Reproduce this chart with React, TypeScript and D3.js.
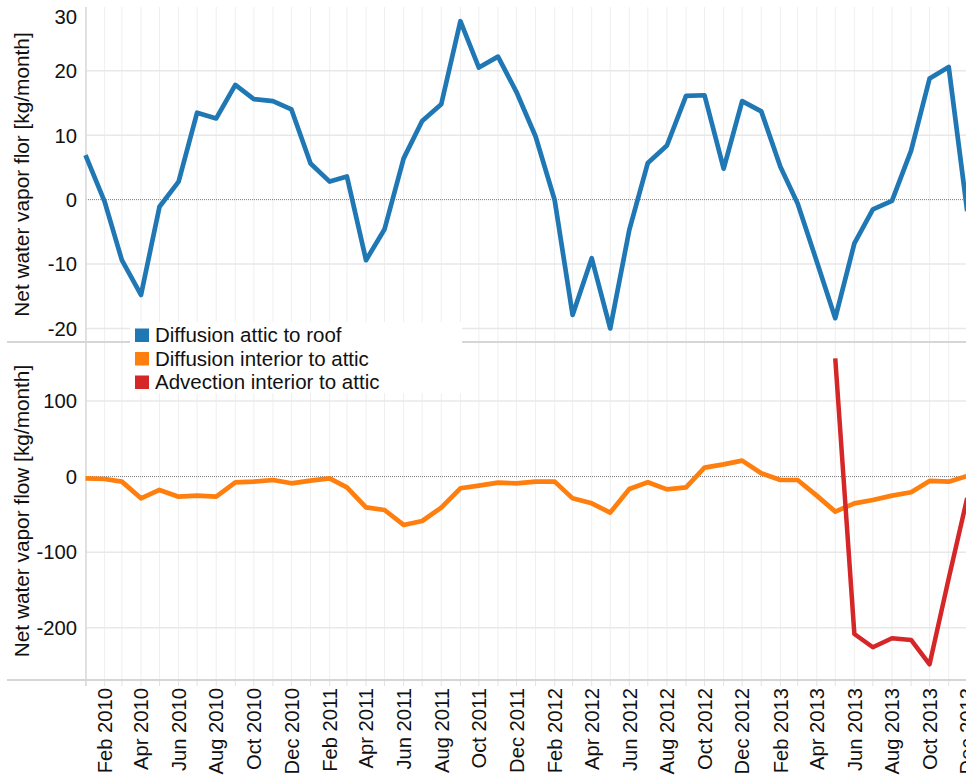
import React from "react";
import * as d3 from "d3";

// monthly values, Jan 2010 .. Dec 2013
const startMonth = new Date(2010, 0, 1);
const months = d3.range(48).map((i) => d3.timeMonth.offset(startMonth, i));

const diffusionAtticRoof = [
  6.9, -0.3, -9.4, -14.8, -1.1, 2.8, 13.5, 12.6, 17.8, 15.6, 15.3, 14.0,
  5.6, 2.8, 3.6, -9.4, -4.6, 6.4, 12.2, 14.8, 27.7, 20.5, 22.2, 16.7,
  9.8, -0.1, -17.9, -9.1, -20.0, -4.7, 5.7, 8.4, 16.1, 16.2, 4.8, 15.3,
  13.7, 5.1, -0.6, -9.6, -18.4, -6.8, -1.5, -0.2, 7.6, 18.8, 20.6, -1.8,
];

const diffusionInteriorAttic = [
  -2.3, -3.2, -6.7, -28.8, -17.7, -26.6, -25.2, -26.6, -7.6, -6.7, -4.5, -8.9,
  -5.4, -2.3, -14.2, -40.7, -44.2, -64.0, -58.8, -41.1, -15.5, -12.0, -8.0, -8.9,
  -6.7, -6.7, -28.8, -35.4, -47.7, -16.4, -7.6, -16.9, -14.2, 11.8, 16.2, 21.1,
  4.3, -4.5, -4.5, -25.2, -46.4, -35.4, -31.0, -25.2, -20.8, -5.8, -6.7, 0.8,
];

const advectionInteriorAttic: (number | null)[] = [
  ...Array(40).fill(null),
  156.5, -208.3, -225.9, -214.0, -216.2, -248.4, -135.0, -28.3,
];

const topTicks = [30, 20, 10, -10, -20];
const bottomTicks = [100, -100, -200];

const seriesNames = [
  "Diffusion attic to roof",
  "Diffusion interior to attic",
  "Advection interior to attic",
];
const seriesColors = ["#1f77b4", "#ff7f0e", "#d62728"];

const W = 966;
const H = 776;
const FONT = "'Liberation Sans', Arial, sans-serif";

const App = () => {
  const left = 86;
  const topY0 = 7;
  const split = 342;
  const bottomY1 = 680;

  const x = d3
    .scaleTime()
    .domain([startMonth, months[months.length - 1]])
    .range([85.5, 967.2]);

  const yTop = d3.scaleLinear().domain([-22.1, 29.9]).range([split, topY0]);
  const yBot = d3.scaleLinear().domain([-269.2, 178.1]).range([bottomY1, split]);

  const lineTop = d3
    .line<number | null>()
    .defined((d) => d != null)
    .x((d, i) => x(months[i]))
    .y((d) => yTop(d as number));

  const lineBot = d3
    .line<number | null>()
    .defined((d) => d != null)
    .x((d, i) => x(months[i]))
    .y((d) => yBot(d as number));

  const monthTicks = d3.timeMonth.range(startMonth, d3.timeMonth.offset(months[47], 1));
  const labelTicks = monthTicks.filter((d) => d.getMonth() % 2 === 1);
  const fmt = d3.timeFormat("%b %Y");

  return (
    <svg
      width={W}
      height={H}
      style={{ position: "absolute", left: 0, top: 0, background: "#fff" }}
      fontFamily={FONT}
    >
      {/* vertical month gridlines */}
      {monthTicks.map((d, i) => (
        <g key={"vg" + i}>
          <line x1={x(d)} x2={x(d)} y1={topY0} y2={bottomY1} stroke="#efefef" strokeWidth={1} />
          <line x1={x(d)} x2={x(d)} y1={bottomY1} y2={bottomY1 + 6} stroke="#e2e2e2" strokeWidth={1} />
        </g>
      ))}

      {/* horizontal gridlines */}
      {topTicks
        .filter((t) => t !== 30)
        .map((t) => (
          <line key={"ht" + t} x1={left} x2={W} y1={yTop(t)} y2={yTop(t)} stroke="#e8e8e8" strokeWidth={1.5} />
        ))}
      {bottomTicks.map((t) => (
        <line key={"hb" + t} x1={left} x2={W} y1={yBot(t)} y2={yBot(t)} stroke="#e8e8e8" strokeWidth={1.5} />
      ))}

      {/* zero lines */}
      <line x1={left} x2={W} y1={yTop(0)} y2={yTop(0)} stroke="#777" strokeWidth={1} strokeDasharray="1,1" />
      <line x1={left} x2={W} y1={yBot(0)} y2={yBot(0)} stroke="#777" strokeWidth={1} strokeDasharray="1,1" />

      {/* axis frame */}
      <line x1={left} x2={left} y1={topY0} y2={bottomY1 + 6} stroke="#d8d8d8" strokeWidth={1.5} />
      <line x1={7} x2={W} y1={split} y2={split} stroke="#d6d6d6" strokeWidth={2} />
      <line x1={7} x2={W} y1={bottomY1} y2={bottomY1} stroke="#d6d6d6" strokeWidth={2} />

      {/* y tick labels */}
      {topTicks.concat([0]).map((t) => (
        <text
          key={"tl" + t}
          x={77}
          y={Math.max(yTop(t), 17)}
          dy="0.36em"
          textAnchor="end"
          fontSize={20.3}
          fill="#111"
        >
          {t}
        </text>
      ))}
      {bottomTicks.concat([0]).map((t) => (
        <text key={"bl" + t} x={77} y={yBot(t)} dy="0.36em" textAnchor="end" fontSize={20.3} fill="#111">
          {t}
        </text>
      ))}

      {/* y titles */}
      <text
        transform={`translate(29, ${(topY0 + split) / 2}) rotate(-90)`}
        textAnchor="middle"
        fontSize={20.8}
        fill="#111"
      >
        Net water vapor flor [kg/month]
      </text>
      <text
        transform={`translate(29, ${(split + bottomY1) / 2}) rotate(-90)`}
        textAnchor="middle"
        fontSize={20.8}
        fill="#111"
      >
        Net water vapor flow [kg/month]
      </text>

      {/* x labels */}
      {labelTicks.map((d, i) => (
        <text
          key={"xl" + i}
          transform={`translate(${x(d)}, 688) rotate(-90)`}
          dy="0.36em"
          textAnchor="end"
          fontSize={20.2}
          fill="#111"
        >
          {fmt(d)}
        </text>
      ))}

      {/* series */}
      <path
        d={lineTop(diffusionAtticRoof) || ""}
        fill="none"
        stroke={seriesColors[0]}
        strokeWidth={4.7}
        strokeLinejoin="round"
      />
      <path
        d={lineBot(diffusionInteriorAttic) || ""}
        fill="none"
        stroke={seriesColors[1]}
        strokeWidth={4.7}
        strokeLinejoin="round"
      />
      <path
        d={lineBot(advectionInteriorAttic) || ""}
        fill="none"
        stroke={seriesColors[2]}
        strokeWidth={4.5}
        strokeLinejoin="round"
      />

      {/* legend */}
      <rect x={130} y={322} width={332} height={71} fill="#fff" />
      {seriesNames.map((name, i) => (
        <g key={name} transform={`translate(135, ${335 + i * 23.5})`}>
          <rect x={0} y={-6.5} width={14} height={13.5} fill={seriesColors[i]} />
          <text x={20} y={0} dy="0.36em" fontSize={20.5} fill="#111">
            {name}
          </text>
        </g>
      ))}
    </svg>
  );
};

export default App;
